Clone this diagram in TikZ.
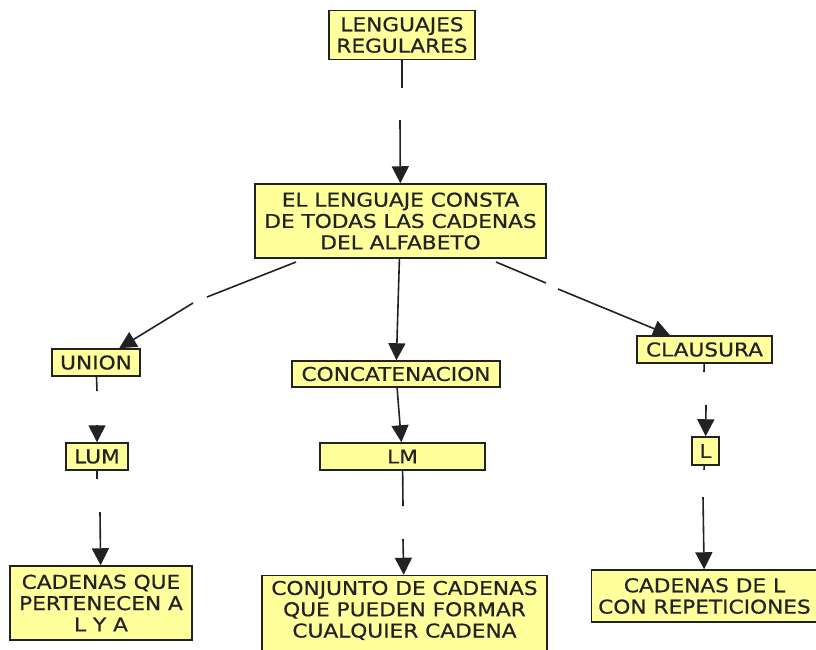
\documentclass[tikz,border=0pt]{standalone}
\usepackage{fontspec}
\setmainfont{DejaVu Sans}[FakeStretch=1.14,FakeBold=0.6]
\usetikzlibrary{arrows.meta}
\definecolor{boxfill}{HTML}{FFFF9C}
\definecolor{ink}{HTML}{222222}
\tikzset{
  cbox/.style={draw=ink, line width=1.5pt, fill=boxfill, text=ink, align=center,
    inner sep=0pt, font=\fontsize{19}{21.3}\selectfont},
  ln/.style={draw=ink, line width=1.6pt},
  arr/.style={ln, -{Triangle[length=17pt,width=17pt]}}
}
\begin{document}
\begin{tikzpicture}[x=1pt,y=-1pt]
\useasboundingbox (0,0) rectangle (816,649);
% nodes
\node[cbox, minimum width=146pt, minimum height=49pt] (lr) at (402,35) {LENGUAJES\\REGULARES};
\node[cbox, minimum width=291pt, minimum height=74pt] (el) at (400.5,221) {EL LENGUAJE CONSTA\\DE TODAS LAS CADENAS\\DEL ALFABETO};
\node[cbox, minimum width=88pt, minimum height=27pt] (union) at (96,362.5) {UNION};
\node[cbox, minimum width=62pt, minimum height=27pt] (lum) at (97,456.5) {LUM};
\node[cbox, minimum width=208pt, minimum height=26pt] (conc) at (396,374) {CONCATENACION};
\node[cbox, minimum width=165pt, minimum height=27pt] (lm) at (402.5,456.5) {LM};
\node[cbox, minimum width=135pt, minimum height=27pt] (clau) at (704.5,349.5) {CLAUSURA};
\node[cbox, minimum width=27pt, minimum height=28pt] (l) at (705.5,451) {L};
\node[cbox, minimum width=182pt, minimum height=74pt] (cq) at (101,603) {CADENAS QUE\\PERTENECEN A\\L Y A};
\node[cbox, minimum width=285pt, minimum height=80pt] (conj) at (404.5,615.5) {CONJUNTO DE CADENAS\\QUE PUEDEN FORMAR\\CUALQUIER CADENA\\[-15pt]\strut};
\node[cbox, minimum width=226pt, minimum height=52pt] (cdl) at (704.5,596) {CADENAS DE L\\CON REPETICIONES};
% gap coordinates
\coordinate (c1a) at (402,88);   \coordinate (c1b) at (400,120);
\coordinate (c2a) at (207,297);  \coordinate (c2b) at (193,303);
\coordinate (c4a) at (546,283);  \coordinate (c4b) at (558,289);
\coordinate (c5a) at (97,391);   \coordinate (c5b) at (97,425);
\coordinate (c7a) at (403,506);  \coordinate (c7b) at (403,539);
\coordinate (c8a) at (97,479);   \coordinate (c8b) at (100,512);
\coordinate (c9a) at (704,372);  \coordinate (c9b) at (706,405);
\coordinate (c10a) at (704,470); \coordinate (c10b) at (703,497);
\coordinate (e2) at (296,262);   \coordinate (e4) at (496,262);
% connectors
\draw[ln] (lr) -- (c1a);   \draw[arr] (c1b) -- (el);
\draw[ln] (e2) -- (c2a);   \draw[arr] (c2b) -- (union);
\draw[arr] (el) -- (conc);
\draw[ln] (e4) -- (c4a);   \draw[arr] (c4b) -- (clau);
\draw[ln] (union) -- (c5a); \draw[arr] (c5b) -- (lum);
\draw[arr] (conc) -- (lm);
\draw[ln] (lm) -- (c7a);   \draw[arr] (c7b) -- (conj);
\draw[ln] (lum) -- (c8a);  \draw[arr] (c8b) -- (cq);
\draw[ln] (clau) -- (c9a); \draw[arr] (c9b) -- (l);
\draw[ln] (l) -- (c10a);   \draw[arr] (c10b) -- (cdl);
\end{tikzpicture}
\end{document}
